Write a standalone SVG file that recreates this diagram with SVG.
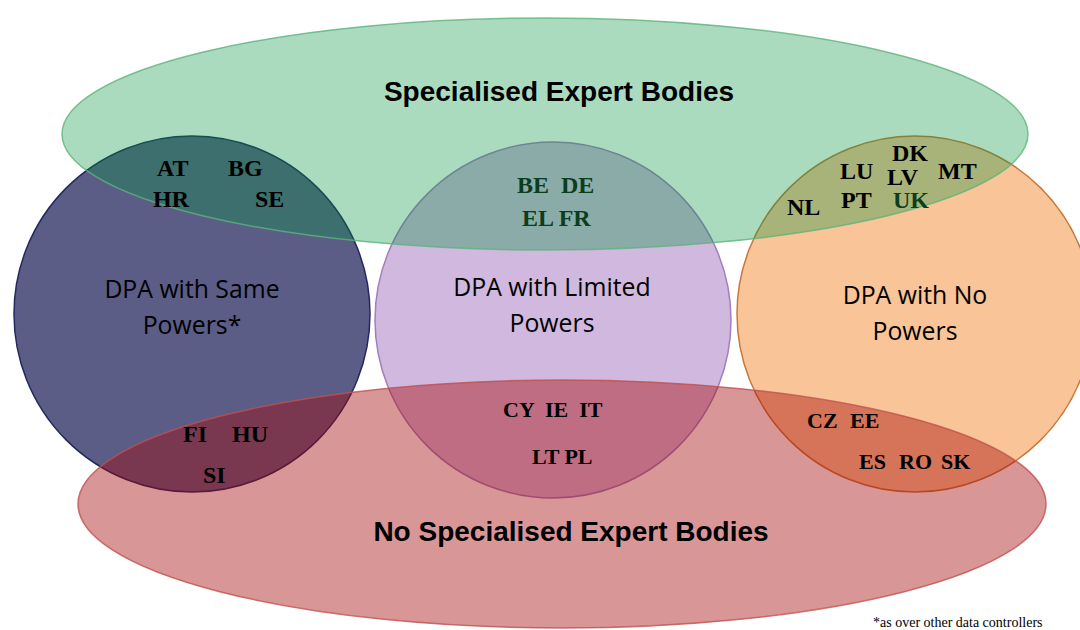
<svg xmlns="http://www.w3.org/2000/svg" width="1080" height="630" viewBox="0 0 1080 630">
<style>
.title{font-family:"Liberation Sans",Arial,sans-serif;font-weight:bold;font-size:28px;fill:#000;text-anchor:middle}
.lbl{font-family:"Open Sans",Lato,sans-serif;font-size:24.8px;fill:#000;text-anchor:middle}
.cc{font-family:"Liberation Serif","Times New Roman",serif;font-weight:bold;font-size:24px;fill:#000}
.cs{font-size:22px}
.gr{fill:#0b3d1f}
.note{font-family:"Liberation Serif","Times New Roman",serif;font-size:14px;fill:#000}
</style>
<rect width="1080" height="630" fill="#fff"/>
<g id="dpa-same">
<circle cx="192" cy="314" r="178" fill="#5b5d87" stroke="#23295e" stroke-width="1.5"/>
</g>
<g id="dpa-limited">
<circle cx="553" cy="320" r="178" fill="#d0b8de" stroke="#a07fc0" stroke-width="1.5"/>
</g>
<g id="dpa-none">
<circle cx="915" cy="314" r="178" fill="#f9c497" stroke="#c8783a" stroke-width="1.5"/>
</g>
<g id="specialised">
<ellipse cx="545" cy="134" rx="483" ry="116" fill="rgb(3,146,60)" fill-opacity="0.335" stroke="#5cb47c" stroke-width="1.5" stroke-opacity="0.8"/>
<text class="title" x="559" y="101">Specialised Expert Bodies</text>
</g>
<g id="no-specialised">
<ellipse cx="562" cy="504" rx="484" ry="124" fill="rgb(164,5,5)" fill-opacity="0.42" stroke="#c0504d" stroke-width="1.5" stroke-opacity="0.8"/>
<text class="title" x="571" y="541">No Specialised Expert Bodies</text>
</g>
<g id="labels">
<text class="lbl" x="192" y="298">DPA with Same</text>
<text class="lbl" x="192" y="334">Powers*</text>
<text class="lbl" x="552" y="296">DPA with Limited</text>
<text class="lbl" x="552" y="332">Powers</text>
<text class="lbl" x="915" y="304">DPA with No</text>
<text class="lbl" x="915" y="340">Powers</text>
</g>
<g id="countries">
<text class="cc" x="157" y="176">AT</text>
<text class="cc" x="228" y="176">BG</text>
<text class="cc" x="153" y="207">HR</text>
<text class="cc" x="255" y="207">SE</text>
<text class="cc" x="183" y="442">FI</text>
<text class="cc" x="232" y="442">HU</text>
<text class="cc" x="203" y="483">SI</text>
<text class="cc gr" x="517" y="193" xml:space="preserve">BE  DE</text>
<text class="cc gr" x="522" y="226">EL FR</text>
<text class="cc cs" x="503" y="417" xml:space="preserve">CY  IE  IT</text>
<text class="cc cs" x="532" y="464">LT PL</text>
<text class="cc" x="892" y="161">DK</text>
<text class="cc" x="840" y="179">LU</text>
<text class="cc" x="887" y="185">LV</text>
<text class="cc" x="938" y="179">MT</text>
<text class="cc" x="787" y="215">NL</text>
<text class="cc" x="841" y="208">PT</text>
<text class="cc gr" x="893" y="208">UK</text>
<text class="cc cs" x="807" y="428">CZ</text>
<text class="cc cs" x="850" y="428">EE</text>
<text class="cc cs" x="859" y="469">ES</text>
<text class="cc cs" x="899" y="469">RO</text>
<text class="cc cs" x="941" y="469">SK</text>
</g>
<g id="connectors"></g>
<text class="note" x="873" y="627">*as over other data controllers</text>
</svg>
